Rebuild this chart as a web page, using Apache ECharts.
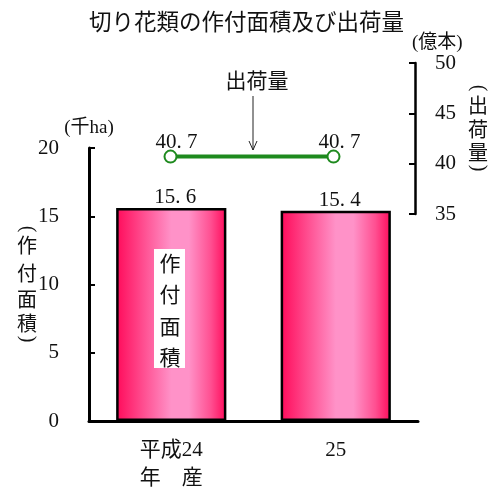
<!DOCTYPE html>
<html>
<head>
<meta charset="utf-8">
<script src="https://cdn.jsdelivr.net/npm/echarts@6/dist/echarts.min.js"></script>
<style>html,body{margin:0;padding:0;background:#fff;}#c{width:500px;height:493px;}</style>
</head>
<body>
<div id="c"></div>
<script>
var categories = ['平成24\n年　産', '25'];
var areaValues = [15.6, 15.4];      // 作付面積 (千ha)
var shipValues = [40.7, 40.7];      // 出荷量 (億本)
var leftTicks = {min: 0, max: 20, interval: 5};
var rightTicks = {min: 35, max: 50, interval: 5};

var SERIF = '"Liberation Serif", "Noto Sans CJK JP", serif';
var SANS = '"Noto Sans CJK JP", sans-serif';
function fmt(v){ return String(v.toFixed(1)).replace('.', '. '); }

function paren(cx, cy, ch, size){
  return {type: 'group', x: cx, y: cy, rotation: -Math.PI / 2, z: 100,
    children: [{type: 'text', x: 0, y: 0, z: 100,
      style: {text: ch, font: size + 'px ' + SERIF, fill: '#111', align: 'center', verticalAlign: 'middle'}}]};
}
// vertical text helper: chars stacked, parentheses drawn as rotated glyphs
function vlabel(cx, openY, charYs, closeY, chars, size){
  var els = [paren(cx, openY, '(', size)];
  for (var i = 0; i < chars.length; i++) {
    els.push({type: 'text', x: cx, y: charYs[i], z: 100,
      style: {text: chars[i], font: size + 'px ' + SANS, fill: '#111', align: 'center', verticalAlign: 'middle'}});
  }
  els.push(paren(cx, closeY, ')', size));
  return els;
}

var graphics = [];
graphics = graphics.concat(vlabel(27, 229, [245, 273, 299, 323], 339, ['作', '付', '面', '積'], 20));
graphics = graphics.concat(vlabel(478, 88, [105, 129, 152], 168, ['出', '荷', '量'], 20));
graphics.push({type: 'rect', z: 99, shape: {x: 154, y: 249, width: 31, height: 119}, style: {fill: '#fff'}});
var inBar = ['作', '付', '面', '積'];
for (var k = 0; k < inBar.length; k++) {
  graphics.push({type: 'text', x: 170, y: 263 + k * 31.3, z: 100,
    style: {text: inBar[k], font: '21px ' + SANS, fill: '#111', align: 'center', verticalAlign: 'middle'}});
}
graphics.push({type: 'text', x: 257, y: 80, z: 100,
  style: {text: '出荷量', font: '21px ' + SANS, fill: '#111', align: 'center', verticalAlign: 'middle'}});
graphics.push({type: 'line', z: 100, shape: {x1: 253, y1: 96, x2: 253, y2: 150}, style: {stroke: '#222', lineWidth: 1}});
graphics.push({type: 'polyline', z: 100, shape: {points: [[249, 141], [253, 150], [257, 141]]}, style: {stroke: '#222', lineWidth: 1, fill: null}});

var chart = echarts.init(document.getElementById('c'), null, {renderer: 'canvas'});
chart.setOption({
  animation: false,
  backgroundColor: '#fff',
  title: {
    text: '切り花類の作付面積及び出荷量',
    left: 84, top: 5,
    textStyle: {fontFamily: SANS, fontSize: 22.5, fontWeight: 'normal', color: '#111'}
  },
  grid: [
    {left: 89, right: 82, top: 148, bottom: 72},
    {left: 89, right: 85, top: 63, bottom: 279}
  ],
  xAxis: [
    {type: 'category', gridIndex: 0, data: categories,
     axisLine: {lineStyle: {color: '#000', width: 3}},
     axisTick: {show: false},
     axisLabel: {color: '#111', fontFamily: SERIF, fontSize: 21, lineHeight: 28, margin: 15}},
    {type: 'category', gridIndex: 1, data: categories, show: false}
  ],
  yAxis: [
    {type: 'value', gridIndex: 0, min: leftTicks.min, max: leftTicks.max, interval: leftTicks.interval,
     name: '(千ha)', nameLocation: 'end', nameGap: 8,
     nameTextStyle: {color: '#111', fontFamily: SERIF, fontSize: 19, align: 'center'},
     axisLine: {show: true, lineStyle: {color: '#000', width: 3}},
     axisTick: {show: true, inside: true, length: 6, lineStyle: {color: '#000', width: 2}},
     splitLine: {show: false},
     axisLabel: {color: '#111', fontFamily: SERIF, fontSize: 21, margin: 30}},
    {type: 'value', gridIndex: 1, position: 'right', min: rightTicks.min, max: rightTicks.max, interval: rightTicks.interval,
     name: '(億本)', nameLocation: 'end', nameGap: 10,
     nameTextStyle: {color: '#111', fontFamily: SERIF, fontSize: 19, align: 'left', padding: [0, 0, 0, -3]},
     axisLine: {show: true, lineStyle: {color: '#000', width: 2.5}},
     axisTick: {show: true, inside: true, length: 6, lineStyle: {color: '#000', width: 2}},
     splitLine: {show: false},
     axisLabel: {color: '#111', fontFamily: SERIF, fontSize: 21, margin: 20}}
  ],
  series: [
    {type: 'bar', xAxisIndex: 0, yAxisIndex: 0, data: areaValues, barWidth: '67%',
     itemStyle: {
       borderColor: '#000', borderWidth: 2.5,
       color: {type: 'linear', x: 0, y: 0, x2: 1, y2: 0, colorStops: [
         {offset: 0, color: '#FF0A5A'},
         {offset: 0.25, color: '#FF4F91'},
         {offset: 0.5, color: '#FF92C8'},
         {offset: 0.66, color: '#FF92C8'},
         {offset: 0.86, color: '#FF4F91'},
         {offset: 1, color: '#FF0A5A'}]}
     },
     label: {show: true, position: 'top', distance: 3, offset: [4, 3], color: '#111',
             fontFamily: SERIF, fontSize: 21, formatter: function(p){ return fmt(p.value); }}},
    {type: 'line', xAxisIndex: 1, yAxisIndex: 1, data: shipValues,
     symbol: 'circle', symbolSize: 12,
     lineStyle: {color: '#1E8A1E', width: 4},
     itemStyle: {color: '#fff', borderColor: '#1E8A1E', borderWidth: 2},
     label: {show: true, position: 'top', distance: 3, offset: [6, 6], color: '#111',
             fontFamily: SERIF, fontSize: 21, formatter: function(p){ return fmt(p.value); }}}
  ],
  graphic: graphics
});
</script>
</body>
</html>
